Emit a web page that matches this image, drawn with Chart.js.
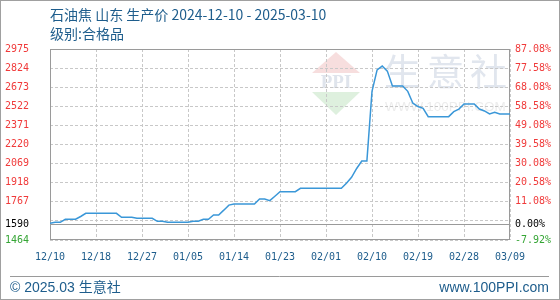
<!DOCTYPE html>
<html>
<head>
<meta charset="utf-8">
<script src="https://cdn.jsdelivr.net/npm/chart.js@4.4.1/dist/chart.umd.min.js"></script>
<style>
  html, body { margin: 0; padding: 0; background: #fff; }
  #wrap { width: 560px; height: 300px; }
</style>
</head>
<body>
<div id="wrap"><canvas id="chart" width="560" height="300"></canvas></div>
<script>
const titleText = '石油焦 山东 生产价 2024-12-10 - 2025-03-10';
const subTitleText = '级别:合格品';
const footLeft = '© 2025.03 生意社';
const footRight = 'www.100PPI.com';

// x axis: one point per day, a label every 9 points
const xTickLabels = ['12/10', '12/18', '12/27', '01/05', '01/14', '01/23', '02/01', '02/10', '02/19', '02/28', '03/09'];
const prices = [
    1596, 1604, 1604, 1628, 1628, 1628, 1650, 1675, 1675, 1675,
    1675, 1675, 1675, 1675, 1644, 1644, 1644, 1636, 1636, 1636,
    1636, 1612, 1612, 1604, 1604, 1604, 1604, 1604, 1612, 1612,
    1628, 1628, 1662, 1662, 1700, 1740, 1749, 1749, 1749, 1749,
    1749, 1788, 1788, 1775, 1810, 1846, 1846, 1846, 1846, 1873,
    1873, 1873, 1873, 1873, 1873, 1873, 1873, 1873, 1913, 1960,
    2030, 2089, 2089, 2640, 2810, 2840, 2800, 2682, 2682, 2682,
    2640, 2546, 2520, 2506, 2440, 2440, 2440, 2440, 2440, 2479,
    2500, 2540, 2540, 2540, 2500, 2485, 2461, 2474, 2461, 2461,
    2461
];

// y axis ticks (1615 is a grid line only, 1590 is the base price)
const basePrice = 1590;
const yTickValues = [1464, 1590, 1615, 1767, 1918, 2069, 2220, 2371, 2522, 2673, 2824, 2975];
const leftLabels = ['1464', '1590', '', '1767', '1918', '2069', '2220', '2371', '2522', '2673', '2824', '2975'];
const rightLabels = ['-7.92%', '0.00%', '', '11.08%', '20.58%', '30.08%', '39.58%', '49.08%', '58.58%', '68.08%', '77.58%', '87.08%'];

const RED = '#f03a3a';
const GREEN = '#35a535';
const BLUE_TEXT = '#1e5d8c';
const tickFont = { family: 'DejaVu Sans Mono', size: 10 };

function labelColor(ctx) {
    const v = ctx.tick.value;
    if (v > basePrice) return RED;
    if (v < basePrice) return GREEN;
    return '#000';
}

function setYTicks(scale) {
    scale.ticks = yTickValues.map(v => ({ value: v }));
}

// background, watermark, titles, footer, borders
const decor = {
    id: 'decor',
    beforeDraw(chart) {
        const c = chart.ctx;
        c.save();
        c.fillStyle = '#fff';
        c.fillRect(0, 0, chart.width, chart.height);

        // PPI logo watermark
        c.fillStyle = 'rgba(240, 190, 190, 0.5)';
        c.beginPath();
        c.moveTo(312, 73); c.lineTo(336, 52); c.lineTo(360, 73);
        c.closePath(); c.fill();
        c.fillStyle = 'rgba(190, 225, 190, 0.5)';
        c.beginPath();
        c.moveTo(312, 92); c.lineTo(360, 92); c.lineTo(336, 115);
        c.closePath(); c.fill();
        c.fillStyle = '#dfe4ec';
        c.font = 'bold 19px "Liberation Serif"';
        c.textAlign = 'center';
        c.textBaseline = 'middle';
        c.fillText('PPI', 336, 83);

        c.fillStyle = '#e1e6ee';
        c.font = '37px "Noto Sans CJK SC"';
        c.textAlign = 'left';
        ['生', '意', '社'].forEach((ch, i) => c.fillText(ch, 384 + i * 43, 72));
        c.fillStyle = '#ececec';
        c.font = '13.5px "Liberation Sans"';
        c.fillText('WWW.100PPI.COM', 385, 107);
        c.restore();
    },
    beforeDatasetsDraw(chart) {
        const { ctx: c, chartArea: a } = chart;
        c.save();
        c.strokeStyle = '#9a9a9a';
        c.lineWidth = 1;
        c.strokeRect(Math.round(a.left) + 0.5, Math.round(a.top) + 0.5,
            Math.round(a.right - a.left) - 1, Math.round(a.bottom - a.top) - 1);
        c.restore();
    },
    afterDraw(chart) {
        const c = chart.ctx;
        c.save();
        c.fillStyle = BLUE_TEXT;
        c.textBaseline = 'middle';
        c.textAlign = 'left';
        c.font = '14px "Noto Sans CJK SC"';
        c.fillText(titleText, 50, 15);
        c.fillText(subTitleText, 50, 34);

        c.font = '14px "Liberation Sans", "Noto Sans CJK SC"';
        c.fillText(footLeft, 10, 288);
        c.textAlign = 'right';
        c.fillText(footRight, 549, 288);

        c.strokeStyle = '#9a9a9a';
        c.lineWidth = 1;
        c.beginPath();
        c.moveTo(10, 276.5);
        c.lineTo(549, 276.5);
        c.stroke();

        c.strokeStyle = '#a0a0a0';
        c.strokeRect(0.5, 0.5, chart.width - 1, chart.height - 1);
        c.restore();
    }
};

new Chart(document.getElementById('chart'), {
    type: 'line',
    data: {
        datasets: [{
            data: prices.map((p, i) => ({ x: i, y: p })),
            borderColor: '#3a97d8',
            borderWidth: 1.5,
            pointRadius: 0,
            tension: 0,
            fill: false
        }]
    },
    options: {
        responsive: false,
        animation: false,
        devicePixelRatio: 1,
        layout: { padding: { left: 5, top: 49, right: 0, bottom: 0 } },
        plugins: {
            legend: { display: false },
            tooltip: { enabled: false }
        },
        scales: {
            x: {
                type: 'linear',
                min: 0,
                max: prices.length - 1,
                afterBuildTicks: s => { s.ticks = xTickLabels.map((_, i) => ({ value: i * 9 })); },
                afterFit: s => { s.height = 60; },
                border: { display: false, dash: [3, 2] },
                grid: { color: '#c8c8c8', drawTicks: false },
                ticks: {
                    padding: 11,
                    color: BLUE_TEXT,
                    font: tickFont,
                    maxRotation: 0,
                    autoSkip: false,
                    callback: v => xTickLabels[Math.round(v / 9)]
                }
            },
            y: {
                position: 'left',
                min: 1464,
                max: 2975,
                afterBuildTicks: setYTicks,
                afterFit: s => { s.width = 45; },
                border: { display: false, dash: ctx => ctx.tick && ctx.tick.value === basePrice ? [] : [3, 2] },
                grid: {
                    drawTicks: false,
                    color: ctx => ctx.tick && ctx.tick.value === basePrice ? '#9a9a9a' : '#c8c8c8'
                },
                ticks: {
                    crossAlign: 'far',
                    padding: 5,
                    font: tickFont,
                    color: labelColor,
                    autoSkip: false,
                    callback: (v, i) => leftLabels[i]
                }
            },
            y2: {
                position: 'right',
                min: 1464,
                max: 2975,
                afterBuildTicks: setYTicks,
                afterFit: s => { s.width = 50; },
                border: { display: false },
                grid: { display: false, drawTicks: false },
                ticks: {
                    padding: 5,
                    font: tickFont,
                    color: labelColor,
                    autoSkip: false,
                    callback: (v, i) => rightLabels[i]
                }
            }
        }
    },
    plugins: [decor]
});
</script>
</body>
</html>
